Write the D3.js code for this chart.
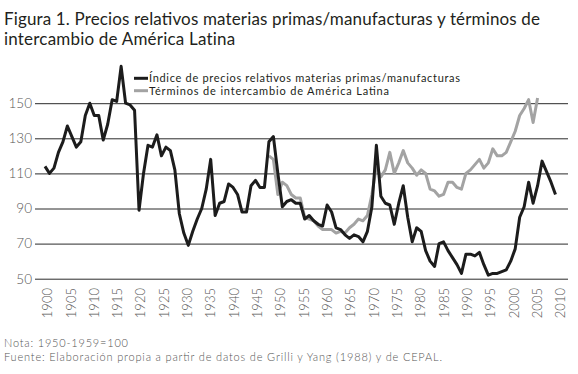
<!DOCTYPE html>
<html><head><meta charset="utf-8">
<script src="https://cdn.jsdelivr.net/npm/d3@7"></script>
<style>
body{margin:0;background:#fff}
svg{display:block}
text{font-family:"Lato","Noto Sans",sans-serif}
</style>
</head><body>
<svg id="c" width="578" height="374"></svg>
<script>
// ---- data ----
const indiceStartYear = 1900;
const indicePrecios = [
 114,110,113,122,128,137,131,125,128,143,
 150,143,143,129,138,152,151,171,150,149,
 146,89,110,126,125,132,120,125,123,112,
 87,76,69,77,84,90,101,118,86,93,
 94,104,102,98,88,88,103,106,102,102,
 128,131,110,91,94,95,93,93,84,86,
 83,81,80,92,88,79,78,75,73,75,
 74,71,77,91,126,97,93,92,81,93,
 103,85,71,79,77,66,60,57,70,71,
 66,62,58,53,64,64,63,65,58,52,
 53,53,54,55,60,67,85,91,105,93,
 103,117,111,105,98
];
const terminosStartYear = 1950;
const terminosIntercambio = [
 120,118,98,105,103,98,96,96,85,84,
 83,80,78,78,78,76,77,76,79,81,
 84,83,86,98,114,108,112,122,110,116,
 123,116,113,109,112,110,101,100,97,98,
 105,105,102,101,110,112,115,118,113,116,
 124,120,120,122,128,134,143,147,152,139,
 153
];
const yTicks = [50,70,90,110,130,150];
const xTickLabels = [1900,1905,1910,1915,1920,1925,1930,1935,1940,1945,1950,1955,1960,1965,1970,1975,1980,1985,1990,1995,2000,2005,2010];
const seriesNames = ["Índice de precios relativos materias primas/manufacturas","Términos de intercambio de América Latina"];
const seriesColors = ["#1c1c1c","#a3a3a3"];
const titleLines = ["Figura 1. Precios relativos materias primas/manufacturas y términos de","intercambio de América Latina"];
const notes = ["Nota: 1950-1959=100","Fuente: Elaboración propia a partir de datos de Grilli y Yang (1988) y de CEPAL."];

const indiceData = indicePrecios.map((v,i)=>({year:indiceStartYear+i, v}));
const terminosData = terminosIntercambio.map((v,i)=>({year:terminosStartYear+i, v}));

// ---- layout ----
const svg = d3.select("#c");
const gridL = 35, gridR = 568;
const x = d3.scaleLinear().domain([1900, 2014]).range([45, 555.5]);
const xLab = d3.scaleLinear().domain([1900, 2010]).range([47, 560]);
const y = d3.scaleLinear().domain([50, 150]).range([278.7, 103.2]);

// title
svg.append("text").attr("x",4).attr("y",25).attr("font-size",17).attr("fill","#231f20")
  .attr("textLength",536).attr("lengthAdjust","spacing").text(titleLines[0]);
svg.append("text").attr("x",4).attr("y",45).attr("font-size",17).attr("fill","#231f20")
  .style("letter-spacing","0.2px").text(titleLines[1]);

// grid + y axis
const yAxis = d3.axisLeft(y).tickValues(yTicks).tickSize(0).tickPadding(3).tickFormat(d3.format("d"));
const gy = svg.append("g").attr("transform",`translate(${gridL},0)`).call(yAxis);
gy.select(".domain").remove();
gy.selectAll(".tick line").attr("x1",0).attr("x2",gridR-gridL).attr("stroke","#2b2b2b").attr("stroke-width",1);
gy.selectAll(".tick text").attr("font-size",13.5).attr("fill","#555").style("font-weight",300);

// x axis labels
const xAxis = d3.axisBottom(xLab).tickValues(xTickLabels).tickSize(0).tickPadding(0).tickFormat(d3.format("d"));
const gx = svg.append("g").attr("transform","translate(0,288)").call(xAxis);
gx.select(".domain").remove();
gx.selectAll(".tick text")
  .attr("transform","rotate(-90)")
  .attr("text-anchor","end")
  .attr("x",0).attr("y",0).attr("dy","0.36em")
  .attr("font-size",13).attr("fill","#555").style("font-weight",300);

// lines
const line = d3.line().x(d=>x(d.year)).y(d=>y(d.v)).curve(d3.curveLinear);
svg.append("path").datum(terminosData).attr("d",line).attr("fill","none")
  .attr("stroke",seriesColors[1]).attr("stroke-width",3).attr("stroke-linejoin","round");
svg.append("path").datum(indiceData).attr("d",line).attr("fill","none")
  .attr("stroke",seriesColors[0]).attr("stroke-width",3).attr("stroke-linejoin","round");

// legend
const leg = svg.append("g");
const legY = [78.3, 90.7];
const legTargets = [311, 240];
seriesNames.forEach((n,i)=>{
  leg.append("line").attr("x1",134).attr("x2",148).attr("y1",legY[i]).attr("y2",legY[i])
    .attr("stroke",seriesColors[i]).attr("stroke-width",3);
  leg.append("text").attr("x",149).attr("y",legY[i]+4).attr("font-size",11).attr("fill","#231f20")
    .attr("textLength",legTargets[i]).attr("lengthAdjust","spacing").text(n);
});

// notes
svg.append("text").attr("x",4).attr("y",347).attr("font-size",11).attr("fill","#555").style("font-weight",300)
  .attr("textLength",124).attr("lengthAdjust","spacing").text(notes[0]);
svg.append("text").attr("x",4).attr("y",361).attr("font-size",11).attr("fill","#555").style("font-weight",300)
  .attr("textLength",438).attr("lengthAdjust","spacing").text(notes[1]);
</script>
</body></html>
